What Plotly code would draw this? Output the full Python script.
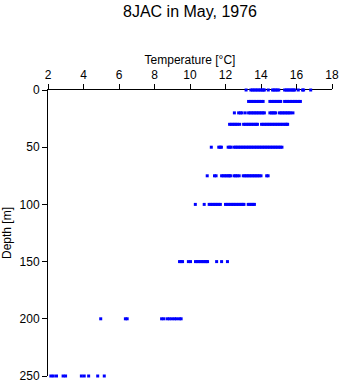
import plotly.graph_objects as go

# Depths sampled [m]
depths = [0, 10, 20, 30, 50, 75, 100, 150, 200, 250]

# Temperatures [°C] observed at each depth
t_0 = [13.16, 13.43, 13.52, 13.61, 13.7, 13.79, 13.88, 13.97, 14.06, 14.13, 14.19,
       14.41, 14.65, 14.73, 14.82, 14.91, 15.0, 15.33, 15.42, 15.5, 15.58, 15.67,
       15.75, 15.83, 15.9, 16.1, 16.34, 16.4, 16.8]
t_10 = [13.3, 13.39, 13.48, 13.57, 13.66, 13.75, 13.84, 13.93, 14.02, 14.12, 14.5,
        14.59, 14.68, 14.77, 14.86, 14.95, 15.04, 15.11, 15.33, 15.42, 15.51, 15.6,
        15.69, 15.78, 15.87, 15.96, 16.05, 16.14, 16.22]
t_20 = [12.5, 12.74, 12.84, 12.93, 13.11, 13.3, 13.39, 13.48, 13.57, 13.66, 13.75,
        13.84, 13.93, 14.02, 14.11, 14.19, 14.5, 14.59, 14.67, 14.75, 14.83, 15.04,
        15.13, 15.22, 15.31, 15.4, 15.49, 15.58, 15.67, 15.8]
t_30 = [12.23, 12.32, 12.41, 12.5, 12.59, 12.68, 12.8, 13.02, 13.11, 13.2, 13.29,
        13.38, 13.47, 13.56, 13.65, 13.73, 13.8, 14.03, 14.12, 14.21, 14.3, 14.39,
        14.48, 14.57, 14.66, 14.75, 14.84, 14.93, 15.02, 15.11, 15.2, 15.29, 15.38,
        15.45, 15.5]
t_50 = [11.2, 11.62, 11.7, 11.77, 12.15, 12.24, 12.31, 12.48, 12.57, 12.66, 12.75,
        12.84, 12.93, 13.02, 13.11, 13.2, 13.29, 13.38, 13.47, 13.56, 13.65, 13.74,
        13.83, 13.92, 14.01, 14.1, 14.19, 14.28, 14.37, 14.46, 14.55, 14.64, 14.73,
        14.82, 14.91, 15.0, 15.09, 15.18]
t_75 = [10.97, 11.38, 11.47, 11.78, 11.87, 11.96, 12.05, 12.14, 12.22, 12.28, 12.48,
        12.57, 12.66, 12.77, 13.0, 13.09, 13.18, 13.27, 13.36, 13.45, 13.54, 13.63,
        13.72, 13.81, 13.9, 14.0, 14.32, 14.4]
t_100 = [10.3, 10.8, 11.08, 11.17, 11.26, 11.35, 11.44, 11.53, 11.62, 11.71, 12.0,
         12.09, 12.18, 12.27, 12.36, 12.45, 12.54, 12.63, 12.72, 12.81, 12.9, 12.98,
         13.04, 13.28, 13.37, 13.46, 13.55, 13.63]
t_150 = [9.41, 9.5, 9.58, 9.91, 10.03, 10.31, 10.4, 10.49, 10.58, 10.67, 10.76,
         10.85, 10.93, 10.99, 11.5, 11.78, 12.11]
t_200 = [4.97, 6.36, 6.46, 8.4, 8.53, 8.72, 8.84, 8.98, 9.12, 9.24, 9.4, 9.5]
t_250 = [2.16, 2.3, 2.48, 2.85, 2.99, 3.88, 4.04, 4.29, 4.8, 5.17]

temps_by_depth = [t_0, t_10, t_20, t_30, t_50, t_75, t_100, t_150, t_200, t_250]

x_ticks = [2, 4, 6, 8, 10, 12, 14, 16, 18]
y_ticks = [0, 50, 100, 150, 200, 250]

xs, ys = [], []
for d, temps in zip(depths, temps_by_depth):
    xs.extend(temps)
    ys.extend([d] * len(temps))

font_family = "Liberation Sans, Arial, sans-serif"

fig = go.Figure()
fig.add_trace(go.Scatter(
    x=xs, y=ys, mode="markers",
    marker=dict(symbol="square", size=3, color="#0000FF", line=dict(width=0)),
    cliponaxis=False, showlegend=False, hoverinfo="x+y",
))

axis_common = dict(
    showgrid=False, zeroline=False, showline=True, linecolor="black", linewidth=1,
    ticks="outside", ticklen=5, tickwidth=1, tickcolor="black",
    tickfont=dict(size=12, color="black", family=font_family),
    automargin=False, layer="below traces",
)

fig.update_layout(
    width=341, height=384,
    margin=dict(l=48, r=9, t=90, b=8),
    paper_bgcolor="white", plot_bgcolor="white",
    font=dict(family=font_family, color="black"),
    title=dict(text="8JAC in May, 1976", x=0.5, xref="paper", xanchor="center",
               y=1 - 11 / 384, yref="container", yanchor="middle",
               font=dict(size=16, color="black", family=font_family)),
    xaxis=dict(side="top", range=[2, 18], tickvals=x_ticks,
               title=dict(text="Temperature [°C]", standoff=1,
                          font=dict(size=12, color="black", family=font_family)),
               **axis_common),
    yaxis=dict(range=[250, 0], tickvals=y_ticks,
               title=dict(text="Depth [m]", standoff=6,
                          font=dict(size=12, color="black", family=font_family)),
               **axis_common),
)

fig.write_html("out.html")
